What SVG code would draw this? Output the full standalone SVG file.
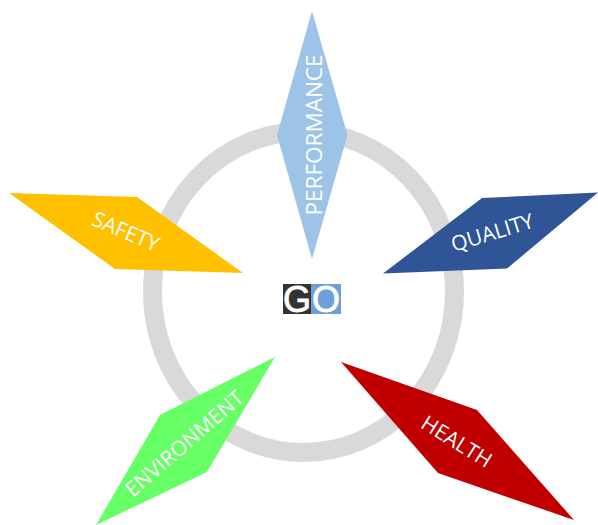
<svg xmlns="http://www.w3.org/2000/svg" width="598" height="525" viewBox="0 0 598 525">
<style>
.lbl{font-family:"Open Sans","Liberation Sans",sans-serif;font-weight:400;fill:#fff;text-anchor:middle;dominant-baseline:central}
.logo{font-family:"Liberation Sans",sans-serif;font-size:36px;fill:#fff;stroke:#fff;stroke-width:.8;text-anchor:middle}
</style>
<rect width="598" height="525" fill="#fff"/>
<g id="connectors"><ellipse cx="303.500" cy="292" rx="151" ry="160.500" fill="none" stroke="#d9d9d9" stroke-width="19"/></g>
<g id="performance"><polygon points="312,11 347.500,135 312,259 277,135" fill="#9dc3e6"/><text class="lbl" font-size="22.500" transform="translate(313 135) rotate(-90)">PERFORMANCE</text></g>
<g id="quality"><polygon points="383,273.500 482,198 598,192.500 507,268.500" fill="#2f5597"/><text class="lbl" font-size="21" transform="translate(492 232) rotate(-17)">QUALITY</text></g>
<g id="health"><polygon points="341,362 477,410 574,520 438,473" fill="#c00000"/><text class="lbl" font-size="21" transform="translate(457 441) rotate(32)">HEALTH</text></g>
<g id="environment"><polygon points="275,357 160,415 96,525 207,472" fill="#66ff66"/><text class="lbl" font-size="21" transform="translate(184 443) rotate(-41)">ENVIRONMENT</text></g>
<g id="safety"><polygon points="9,193 137,197 243,273 115,269" fill="#ffc000"/><text class="lbl" font-size="21" transform="translate(126 231) rotate(23)">SAFETY</text></g>
<g id="go"><rect x="283" y="284" width="28" height="30" fill="#333"/><rect x="311" y="284" width="30" height="30" fill="#6f9fd8"/><text class="logo" x="297" y="312">G</text><text class="logo" x="326" y="312">O</text></g>
</svg>
